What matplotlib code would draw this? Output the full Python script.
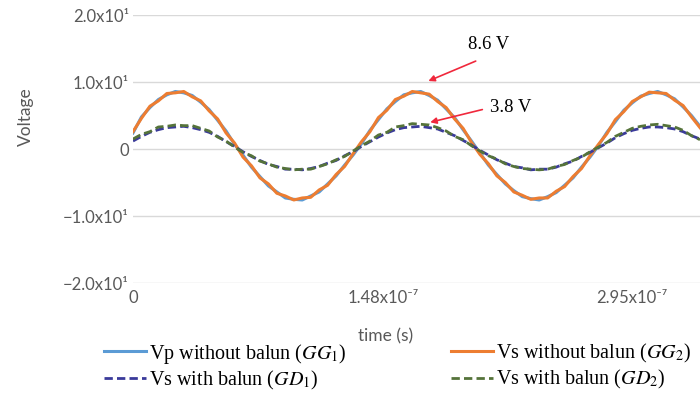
import numpy as np
import matplotlib
matplotlib.use("Agg")
import matplotlib.pyplot as plt

plt.rcParams['font.family'] = ['Lato', 'DejaVu Sans']
plt.rcParams['mathtext.fontset'] = 'stix'

# sampling step 5 ns, 68 samples
time_s = np.arange(68) * 5e-9

vp_gg1 = [2.4, 4.8, 6.2, 7.4, 8.1, 8.6, 8.4, 8.0, 7.0, 5.9, 4.3, 2.7, 0.7, -0.9, -2.7, -4.1, -5.5,
          -6.4, -7.3, -7.5, -7.6, -7.0, -6.4, -5.2, -4.0, -2.4, -0.9, 0.8, 2.8, 4.4, 6.0, 7.1, 8.1,
          8.4, 8.6, 8.0, 7.3, 6.0, 4.7, 2.9, 1.2, -0.6, -2.4, -3.8, -5.2, -6.2, -7.1, -7.4, -7.6,
          -7.1, -6.5, -5.4, -4.3, -2.7, -1.2, 0.5, 2.5, 4.1, 5.8, 6.9, 7.9, 8.3, 8.6, 8.1, 7.5,
          6.3, 5.0, 3.4]
vs_gg2 = [2.6, 4.6, 6.4, 7.2, 8.3, 8.4, 8.6, 7.8, 7.2, 5.7, 4.5, 2.4, 0.9, -1.2, -2.5, -4.3, -5.2,
          -6.6, -7.0, -7.6, -7.3, -7.2, -6.1, -5.4, -3.8, -2.6, -0.7, 1.1, 2.6, 4.7, 5.8, 7.4, 7.9,
          8.6, 8.4, 8.2, 7.1, 6.2, 4.5, 3.1, 1.0, -0.8, -2.2, -4.0, -5.0, -6.4, -6.9, -7.5, -7.3,
          -7.3, -6.3, -5.6, -4.1, -2.9, -1.0, 0.7, 2.3, 4.4, 5.6, 7.1, 7.8, 8.5, 8.4, 8.3, 7.3,
          6.5, 4.8, 3.2]
vs_gd1 = [1.2, 1.9, 2.5, 2.9, 3.2, 3.3, 3.4, 3.2, 2.9, 2.5, 1.9, 1.1, 0.4, -0.4, -1.1, -1.7, -2.3,
          -2.6, -3.0, -3.0, -3.1, -2.9, -2.6, -2.1, -1.7, -1.0, -0.4, 0.4, 1.1, 1.8, 2.4, 2.9, 3.2,
          3.3, 3.4, 3.2, 3.0, 2.5, 2.0, 1.3, 0.6, -0.2, -0.9, -1.6, -2.1, -2.6, -2.8, -3.1, -3.0,
          -3.0, -2.7, -2.2, -1.8, -1.1, -0.5, 0.2, 0.9, 1.7, 2.3, 2.8, 3.1, 3.3, 3.3, 3.2, 3.0,
          2.6, 2.0, 1.5]
vs_gd2 = [1.5, 2.2, 2.6, 3.3, 3.4, 3.6, 3.5, 3.5, 3.1, 2.7, 1.8, 1.2, 0.3, -0.5, -1.0, -1.8, -2.2,
          -2.7, -2.9, -3.1, -3.0, -3.0, -2.6, -2.2, -1.6, -1.1, -0.3, 0.5, 1.2, 2.1, 2.5, 3.3, 3.5,
          3.8, 3.7, 3.6, 3.2, 2.7, 1.9, 1.4, 0.5, -0.3, -1.0, -1.5, -2.2, -2.6, -2.9, -3.0, -3.1,
          -3.0, -2.6, -2.3, -1.7, -1.2, -0.4, 0.3, 1.0, 1.9, 2.5, 3.1, 3.4, 3.6, 3.7, 3.5, 3.3,
          2.8, 2.0, 1.4]

y_ticks = [-20, -10, 0, 10, 20]
y_labels = ['\u22122.0x10\u00b9', '\u22121.0x10\u00b9', '0', '1.0x10\u00b9', '2.0x10\u00b9']
x_ticks = [0, 1.48e-7, 2.95e-7]
x_labels = ['0', '1.48x10\u207b\u2077', '2.95x10\u207b\u2077']

grey = '#595959'

fig = plt.figure(figsize=(7, 4.09), dpi=100)
ax = fig.add_axes([0.19, 0.308, 0.81, 0.655])

ax.plot(time_s, vp_gg1, color='#5B9BD5', lw=2.2, label='Vp without balun ($GG_1$)')
ax.plot(time_s, vs_gg2, color='#ED7D31', lw=2.2, label='Vs without balun ($GG_2$)')
ax.plot(time_s, vs_gd1, color='#3A3A9A', lw=2.0, ls=(0, (3, 1.5)), label='Vs with balun ($GD_1$)')
ax.plot(time_s, vs_gd2, color='#55733A', lw=2.0, ls=(0, (3, 1.5)), label='Vs with balun ($GD_2$)')

ax.set_xlim(0, 3.35e-7)
ax.set_ylim(-20, 20)
ax.set_yticks(y_ticks)
ax.set_yticklabels(y_labels)
ax.set_xticks(x_ticks)
ax.set_xticklabels(x_labels)
ax.tick_params(length=0, labelsize=12, colors=grey, pad=5)
ax.tick_params(axis='y', pad=3)
ax.grid(axis='y', color='#D9D9D9', lw=1)
ax.set_axisbelow(True)
for s in ax.spines.values():
    s.set_visible(False)

ax.set_ylabel('Voltage', fontsize=12.5, color=grey)
ax.yaxis.set_label_coords(-0.175, 0.62)
ax.set_xlabel('time (s)', fontsize=12.5, color=grey)
ax.xaxis.set_label_coords(0.445, -0.17)

# annotations
red = '#F0283C'
ax.annotate('', xy=(1.73e-7, 10.0), xytext=(2.04e-7, 13.3),
            arrowprops=dict(arrowstyle='-|>', color=red, lw=1.2, mutation_scale=9))
ax.text(2.10e-7, 15.6, '8.6 V', fontsize=13.5, family='Liberation Serif', ha='center', va='center')
ax.annotate('', xy=(1.74e-7, 3.9), xytext=(2.08e-7, 6.0),
            arrowprops=dict(arrowstyle='-|>', color=red, lw=1.2, mutation_scale=9))
ax.text(2.23e-7, 6.2, '3.8 V', fontsize=13.5, family='Liberation Serif', ha='center', va='center')

h, l = ax.get_legend_handles_labels()
order = [0, 2, 1, 3]
fig.legend([h[i] for i in order], [l[i] for i in order], loc='upper left',
           bbox_to_anchor=(0.148, 0.165), ncol=2, frameon=False,
           borderpad=0, borderaxespad=0,
           prop={'family': 'Liberation Serif', 'size': 14.5},
           handlelength=2.1, handletextpad=0.15, columnspacing=5.2, labelspacing=0.15)

fig.savefig('out.png', dpi=100)
